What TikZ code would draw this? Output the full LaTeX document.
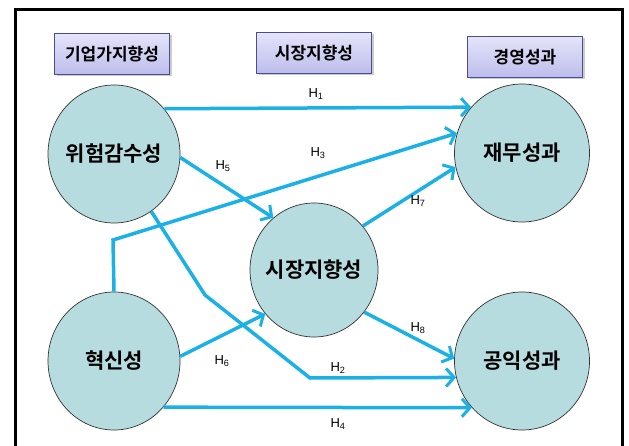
\documentclass[tikz,border=0pt]{standalone}
\usepackage{fontspec}
\setmainfont{Liberation Sans}
\newfontfamily\kor{Noto Sans CJK KR}[BoldFont={Noto Sans CJK KR Bold}]
\usetikzlibrary{shapes.geometric,arrows.meta,shadows}
\definecolor{arrowblue}{HTML}{1CB1E6}
\definecolor{circfill}{HTML}{B6DCDF}
\definecolor{boxtop}{HTML}{E4E4FA}
\definecolor{boxbot}{HTML}{BDBDEC}
\newcommand{\circtext}[1]{\makebox[0pt]{#1}}
\begin{document}
\begin{tikzpicture}[
                        x=1pt, y=-1pt,
                        >={Straight Barb[length=8pt,width=18pt,line width=3pt]},
                        headbox/.style={rectangle, draw=black!60!blue!70, top color=boxtop, bottom color=boxbot,
                                        minimum width=115pt, minimum height=41pt,
                                        font=\kor\bfseries\fontsize{17}{17}\selectfont,
                                        drop shadow={shadow xshift=2pt, shadow yshift=-2pt, opacity=0.4}},
                        factor/.style={ellipse, draw=black!80, fill=circfill, line width=0.7pt,
                                       minimum width=132pt, minimum height=138pt,
                                       font=\kor\bfseries\fontsize{21}{21}\selectfont},
                        link/.style={->, draw=arrowblue, line width=3.5pt},
                        hyp/.style={font=\fontsize{13}{13}\selectfont}
                    ]
                    \useasboundingbox (0,0) rectangle (629,446);
                    % Frame
                    \draw [line width=3pt] (15,450) -- (15,10) -- (622,10) -- (622,450);

                    % Blocks
                    \node [headbox] (hEnt) at (112,54) {기업가지향성};
                    \node [headbox] (hMkt) at (314,53) {시장지향성};
                    \node [headbox] (hPerf) at (525,57) {경영성과};
                    \node [factor] (risk) at (114,154) {\circtext{위험감수성}};
                    \node [factor] (innov) at (114,361) {\circtext{혁신성}};
                    \node [factor, minimum width=128pt, minimum height=134pt] (market) at (314,270) {\circtext{시장지향성}};
                    \node [factor, minimum width=135pt] (finance) at (522,153) {\circtext{재무성과}};
                    \node [factor, minimum width=135pt] (public) at (522,361) {\circtext{공익성과}};

                    % Bends
                    \coordinate (bendA) at (113,240);
                    \coordinate (bendB) at (205,295);
                    \coordinate (bendC) at (310,378);

                    % Connections
                    \draw [link] (risk.42) -- (finance.138);
                    \draw [link] (innov.north) -- (bendA) -- (finance.163);
                    \draw [link] (risk.-3) -- (market.128);
                    \draw [link] (market.42) -- (finance.192);
                    \draw [link] (risk.-57) -- (bendB) -- (bendC) -- (public.194);
                    \draw [link] (innov.4) -- (market.-138);
                    \draw [link] (market.-40) -- (public.178);
                    \draw [link] (innov.-43) -- (public.-137);

                    % Labels
                    \node [hyp] (lH1) at (316,94) {H\textsubscript{1}};
                    \node [hyp] (lH3) at (318,153) {H\textsubscript{3}};
                    \node [hyp] (lH5) at (223,166) {H\textsubscript{5}};
                    \node [hyp] (lH7) at (418,201) {H\textsubscript{7}};
                    \node [hyp] (lH8) at (418,328) {H\textsubscript{8}};
                    \node [hyp] (lH6) at (222,361) {H\textsubscript{6}};
                    \node [hyp] (lH2) at (338,368) {H\textsubscript{2}};
                    \node [hyp] (lH4) at (338,424) {H\textsubscript{4}};
                \end{tikzpicture}
\end{document}
